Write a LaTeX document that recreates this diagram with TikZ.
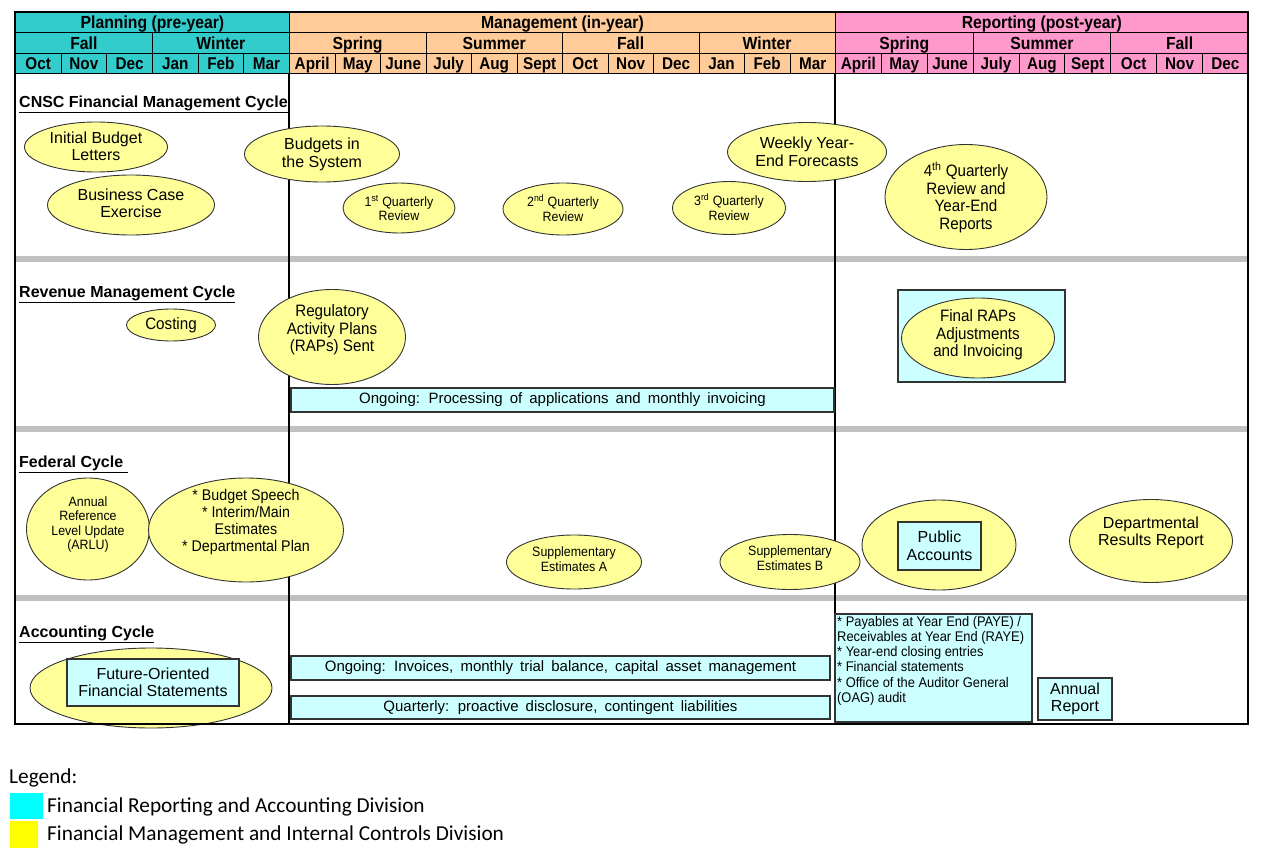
\documentclass[tikz,border=0pt]{standalone}
\usepackage{fontspec}
\setmainfont{Liberation Sans}
\newfontfamily\hdrfont{Liberation Sans}[FakeStretch=0.9]
\newfontfamily\narfont{Liberation Sans}[FakeStretch=0.92]
\newfontfamily\widefont{Liberation Sans}[WordSpace=1.7]
\newfontfamily\legfont{Carlito}
\usetikzlibrary{shapes.geometric}
\definecolor{plancol}{HTML}{33CCCC}
\definecolor{mgmtcol}{HTML}{FFCC99}
\definecolor{repcol}{HTML}{FF99CC}
\definecolor{ellfill}{HTML}{FFFF99}
\definecolor{boxfill}{HTML}{CCFFFF}
\definecolor{bandgray}{HTML}{C0C0C0}
\definecolor{edgegray}{HTML}{333333}
\definecolor{legcyan}{HTML}{00FFFF}
\definecolor{legyellow}{HTML}{FFFF00}
\newcommand\fTop{\hdrfont\bfseries\fontsize{17.5}{19}\selectfont}
\newcommand\fMon{\hdrfont\bfseries\fontsize{17}{18}\selectfont}
\newcommand\fBody{\fontsize{16}{17.5}\selectfont}
\newcommand\fMid{\narfont\fontsize{16.5}{17.5}\selectfont}
\newcommand\fSmall{\narfont\fontsize{13.5}{14.5}\selectfont}
\newcommand\fTitle{\bfseries\fontsize{16}{17}\selectfont}
\newcommand\fBar{\widefont\fontsize{15}{16}\selectfont}
\newcommand\fList{\narfont\fontsize{14}{15.2}\selectfont}
\newcommand\fLeg{\legfont\fontsize{21.3}{24}\selectfont}
\begin{document}
\begin{tikzpicture}[x=1pt,y=-1pt,
  hcell/.style={draw=black, line width=0.8pt, inner sep=0pt, anchor=north west, text height=12.3pt, text depth=0pt},
  ell/.style 2 args={ellipse, draw=edgegray, line width=0.9pt, fill=ellfill, inner sep=0pt, minimum width=#1, minimum height=#2},
  bx/.style 2 args={rectangle, draw=edgegray, line width=1.1pt, fill=boxfill, inner sep=0pt, minimum width=#1, minimum height=#2, align=center},
  txt/.style={inner sep=0pt, align=center},
  ttl/.style={inner sep=0pt, anchor=west, font=\fTitle},
  band/.style={draw=bandgray, line width=6pt},
  vline/.style={draw=black, line width=1.2pt},
  legtxt/.style={inner sep=0pt, anchor=west, font=\fLeg}]
\useasboundingbox (0,0) rectangle (1267,859);

% ---------- header row 1 ----------
\node[hcell, fill=plancol, minimum width=274pt, minimum height=20.5pt, font=\fTop] (hplan) at (15,12) {Planning (pre-year)};
\node[hcell, fill=mgmtcol, minimum width=546pt, minimum height=20.5pt, font=\fTop] (hmgmt) at (289,12) {Management (in-year)};
\node[hcell, fill=repcol, minimum width=413pt, minimum height=20.5pt, font=\fTop] (hrep) at (835,12) {Reporting (post-year)};
% ---------- header row 2 ----------
\foreach \s [count=\i from 0] in {Fall,Winter}
  \node[hcell, fill=plancol, minimum width=137pt, minimum height=20.5pt, font=\fTop] (ps\i) at ({15+137*\i},32.5) {\s};
\foreach \s [count=\i from 0] in {Spring,Summer,Fall,Winter}
  \node[hcell, fill=mgmtcol, minimum width=136.5pt, minimum height=20.5pt, font=\fTop] (ms\i) at ({289+136.5*\i},32.5) {\s};
\foreach \s [count=\i from 0] in {Spring,Summer,Fall}
  \node[hcell, fill=repcol, minimum width=137.667pt, minimum height=20.5pt, font=\fTop] (rs\i) at ({835+137.667*\i},32.5) {\s};
% ---------- header row 3 ----------
\foreach \m [count=\i from 0] in {Oct,Nov,Dec,Jan,Feb,Mar}
  \node[hcell, fill=plancol, minimum width=45.667pt, minimum height=20pt, font=\fMon] (pm\i) at ({15+45.667*\i},53) {\m};
\foreach \m [count=\i from 0] in {April,May,June,July,Aug,Sept,Oct,Nov,Dec,Jan,Feb,Mar}
  \node[hcell, fill=mgmtcol, minimum width=45.5pt, minimum height=20pt, font=\fMon] (mm\i) at ({289+45.5*\i},53) {\m};
\foreach \m [count=\i from 0] in {April,May,June,July,Aug,Sept,Oct,Nov,Dec}
  \node[hcell, fill=repcol, minimum width=45.889pt, minimum height=20pt, font=\fMon] (rm\i) at ({835+45.889*\i},53) {\m};

% ---------- body grid ----------
\coordinate (b1l) at (15,259);  \coordinate (b1r) at (1248,259);
\coordinate (b2l) at (15,429);  \coordinate (b2r) at (1248,429);
\coordinate (b3l) at (15,598);  \coordinate (b3r) at (1248,598);
\draw[band] (b1l) -- (b1r);
\draw[band] (b2l) -- (b2r);
\draw[band] (b3l) -- (b3r);
\coordinate (v1t) at (289,73); \coordinate (v1b) at (289,724);
\coordinate (v2t) at (835,73); \coordinate (v2b) at (835,724);
\draw[vline] (v1t) -- (v1b);
\draw[vline] (v2t) -- (v2b);

% ---------- section titles ----------
\node[ttl] (t1) at (19,104) {\underline{CNSC Financial Management Cycle}};
\node[ttl] (t2) at (19,294) {\underline{Revenue Management Cycle}};
\node[ttl] (t3) at (19,464) {\underline{Federal Cycle\ }};
\node[ttl] (t4) at (19,634) {\underline{Accounting Cycle}};

% ---------- CNSC Financial Management Cycle ----------
\node[ell={143pt}{50pt}] (ibl) at (96,147) {};
\node[txt, font=\fBody] (iblt) at (96,146.5) {Initial Budget\\Letters};
\node[ell={167pt}{60pt}] (bce) at (131,205) {};
\node[txt, font=\fBody] (bcet) at (131,203.5) {Business Case\\Exercise};
\node[ell={155pt}{56pt}] (bis) at (322,154) {};
\node[txt, font=\fBody] (bist) at (322,154.5) {Budgets in\\the System};
\node[ell={112pt}{50pt}] (q1) at (399,208) {};
\node[txt, font=\fSmall] (q1t) at (399,208) {1\textsuperscript{st} Quarterly\\Review};
\node[ell={120pt}{52pt}] (q2) at (563,209) {};
\node[txt, font=\fSmall] (q2t) at (563,208) {2\textsuperscript{nd} Quarterly\\Review};
\node[ell={113pt}{53pt}] (q3) at (729,208) {};
\node[txt, font=\fSmall] (q3t) at (729,207) {3\textsuperscript{rd} Quarterly\\Review};
\node[ell={159pt}{59pt}] (wyf) at (807,152) {};
\node[txt, font=\fBody] (wyft) at (807,152) {Weekly Year-\\End Forecasts};
\node[ell={162pt}{105pt}] (q4) at (966,197) {};
\node[txt, font=\fMid] (q4t) at (966,197.5) {4\textsuperscript{th} Quarterly\\Review and\\Year-End\\Reports};

% ---------- Revenue Management Cycle ----------
\node[ell={89pt}{32pt}] (cost) at (171,325) {};
\node[txt, font=\fMid] (costt) at (171,325) {Costing};
\node[ell={147pt}{95pt}] (raps) at (332,337) {};
\node[txt, font=\fMid] (rapst) at (332,330) {Regulatory\\Activity Plans\\(RAPs) Sent};
\node[bx={543pt}{24pt}, font=\fBar] (ong1) at (562.5,400) {Ongoing: Processing of applications and monthly invoicing};
\node[bx={167pt}{92pt}] (frbox) at (981.5,336) {};
\node[ell={153pt}{80pt}] (fra) at (978,338) {};
\node[txt, font=\fMid] (frat) at (978,335) {Final RAPs\\Adjustments\\and Invoicing};

% ---------- Federal Cycle ----------
\node[ell={123pt}{102pt}] (arlu) at (88,529) {};
\node[txt, font=\fSmall] (arlut) at (88,524.5) {Annual\\Reference\\Level Update\\(ARLU)};
\node[ell={195pt}{104pt}] (bsp) at (246,530) {};
\node[txt, font=\narfont\fontsize{15.5}{17}\selectfont] (bspt) at (246,521.5) {* Budget Speech\\* Interim/Main\\Estimates\\* Departmental Plan};
\node[ell={135pt}{54pt}] (supa) at (574,562) {};
\node[txt, font=\fSmall] (supat) at (574,559) {Supplementary\\Estimates A};
\node[ell={140pt}{55pt}] (supb) at (790,562) {};
\node[txt, font=\fSmall] (supbt) at (790,558) {Supplementary\\Estimates B};
\node[ell={154pt}{90pt}] (pa) at (939,545) {};
\node[bx={83pt}{48pt}, font=\fBody] (pabox) at (939.5,546) {Public\\Accounts};
\node[ell={163pt}{83pt}] (drr) at (1151,541) {};
\node[txt, font=\fBody] (drrt) at (1151,533) {Departmental\\Results Report};

% ---------- Accounting Cycle ----------
\node[ell={242pt}{80pt}] (fofe) at (151,688) {};
\node[bx={172pt}{47pt}, font=\fBody] (fofebox) at (153,682.5) {Future-Oriented\\Financial Statements};
\node[bx={539pt}{24pt}, font=\fBar] (ong2) at (560.5,668) {Ongoing: Invoices, monthly trial balance, capital asset management};
\node[bx={539pt}{23pt}, font=\fBar] (qtr) at (560.5,707.5) {Quarterly: proactive disclosure, contingent liabilities};
\node[bx={197pt}{108pt}] (paye) at (933.5,668) {};
\node[inner sep=0pt, anchor=north west, align=left, font=\fList] (payet) at (837,616) {* Payables at Year End (PAYE) /\\Receivables at Year End (RAYE)\\* Year-end closing entries\\* Financial statements\\* Office of the Auditor General\\(OAG) audit};
\node[bx={74pt}{42pt}, font=\fBody] (ar) at (1075,699) {Annual\\Report};

% ---------- outer border ----------
\coordinate (otl) at (15,12); \coordinate (obr) at (1248,724);
\draw[black, line width=2pt] (otl) rectangle (obr);

% ---------- legend ----------
\node[legtxt] (leg) at (9,778) {Legend:};
\node[fill=legcyan, inner sep=0pt, minimum width=33pt, minimum height=26pt, anchor=north west] (lc) at (10,793) {};
\node[fill=legyellow, inner sep=0pt, minimum width=28pt, minimum height=27pt, anchor=north west] (ly) at (10,821) {};
\node[legtxt] (lct) at (47,807) {Financial Reporting and Accounting Division};
\node[legtxt] (lyt) at (47,835) {Financial Management and Internal Controls Division};
\end{tikzpicture}
\end{document}
